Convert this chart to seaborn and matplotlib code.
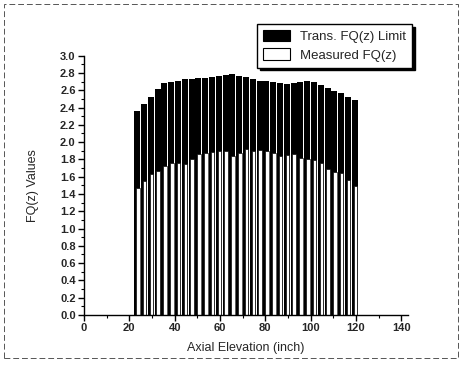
import numpy as np
import pandas as pd
import matplotlib
matplotlib.use("Agg")
import matplotlib.pyplot as plt
from matplotlib.patches import Patch, Rectangle
from matplotlib.ticker import MultipleLocator
import seaborn as sns

# ---- data ----
elevation = [23.5, 26.5, 29.5, 32.5, 35.5, 38.5, 41.5, 44.5, 47.5, 50.5, 53.5,
             56.5, 59.5, 62.5, 65.5, 68.5, 71.5, 74.5, 77.5, 80.5, 83.5, 86.5,
             89.5, 92.5, 95.5, 98.5, 101.5, 104.5, 107.5, 110.5, 113.5, 116.5, 119.5]
limit_fq = [2.36, 2.44, 2.52, 2.61, 2.68, 2.70, 2.71, 2.725, 2.735, 2.745, 2.745,
            2.755, 2.77, 2.78, 2.79, 2.77, 2.75, 2.73, 2.71, 2.705, 2.69, 2.68,
            2.67, 2.68, 2.70, 2.71, 2.70, 2.665, 2.63, 2.59, 2.565, 2.52, 2.49]
measured_fq = [1.47, 1.55, 1.63, 1.67, 1.72, 1.755, 1.76, 1.745, 1.80, 1.86, 1.87,
               1.885, 1.895, 1.90, 1.845, 1.88, 1.92, 1.90, 1.91, 1.90, 1.88, 1.84,
               1.85, 1.86, 1.82, 1.80, 1.79, 1.76, 1.69, 1.66, 1.64, 1.56, 1.49]
series_names = ["Trans. FQ(z) Limit", "Measured FQ(z)"]
x_label = "Axial Elevation (inch)"
y_label = "FQ(z) Values"

df_limit = pd.DataFrame({"z": elevation, "fq": limit_fq})
df_meas = pd.DataFrame({"z": np.array(elevation) + 0.25, "fq": measured_fq})

sns.set_theme(style="ticks")
plt.rcParams["font.family"] = ["Liberation Sans", "DejaVu Sans"]

fig = plt.figure(figsize=(4.66, 3.76), dpi=100)
ax = fig.add_axes([84 / 466, 1 - 315 / 376, (408 - 84) / 466, (315 - 55.7) / 376])

sns.barplot(data=df_limit, x="z", y="fq", native_scale=True, width=0.9,
            color="black", saturation=1, edgecolor="black", linewidth=0,
            errorbar=None, ax=ax)
sns.barplot(data=df_meas, x="z", y="fq", native_scale=True, width=0.52,
            color="white", saturation=1, edgecolor="black", linewidth=0.45,
            errorbar=None, ax=ax)

ax.set_xlim(0, 143)
ax.set_ylim(0, 3.0)
ax.xaxis.set_major_locator(MultipleLocator(20))
ax.xaxis.set_minor_locator(MultipleLocator(10))
ax.yaxis.set_major_locator(MultipleLocator(0.2))
ax.yaxis.set_minor_locator(MultipleLocator(0.1))
ax.set_xticks(np.arange(0, 141, 20))
ax.set_xticklabels([str(v) for v in range(0, 141, 20)])
ax.yaxis.set_major_formatter(matplotlib.ticker.FormatStrFormatter("%.1f"))

for s in ["top", "right"]:
    ax.spines[s].set_visible(False)
for s in ["left", "bottom"]:
    ax.spines[s].set_color("black")
    ax.spines[s].set_linewidth(1.0)

ax.tick_params(axis="both", which="major", direction="out", length=4, width=1,
               color="black", labelsize=8, pad=2)
ax.tick_params(axis="both", which="minor", direction="out", length=2, width=0.8,
               color="black")
for lab in ax.get_xticklabels() + ax.get_yticklabels():
    lab.set_fontweight("bold")

ax.set_xlabel(x_label, fontsize=9, labelpad=6)
ax.set_ylabel(y_label, fontsize=9, labelpad=15)
ax.grid(False)

handles = [Patch(facecolor="black", edgecolor="black", linewidth=0.8),
           Patch(facecolor="white", edgecolor="black", linewidth=0.8)]
leg = fig.legend(handles, series_names, loc="upper right",
                 bbox_to_anchor=(412 / 466, 1 - 24 / 376),
                 bbox_transform=fig.transFigure, borderaxespad=0,
                 fontsize=9.5, frameon=True, fancybox=False,
                 shadow={"color": "black", "alpha": 1},
                 handlelength=2.0, handleheight=0.95, handletextpad=0.8,
                 labelspacing=0.4, borderpad=0.45)
leg.get_frame().set_edgecolor("black")
leg.get_frame().set_linewidth(1.0)

# outer figure border (dashed, as in the scanned original)
fig.patches.append(Rectangle((4 / 466, 1 - 358 / 376), 454 / 466, 354 / 376,
                             transform=fig.transFigure, fill=False,
                             edgecolor="#555555", linewidth=0.7,
                             linestyle=(0, (6, 3))))

fig.savefig("out.png", dpi=100)
